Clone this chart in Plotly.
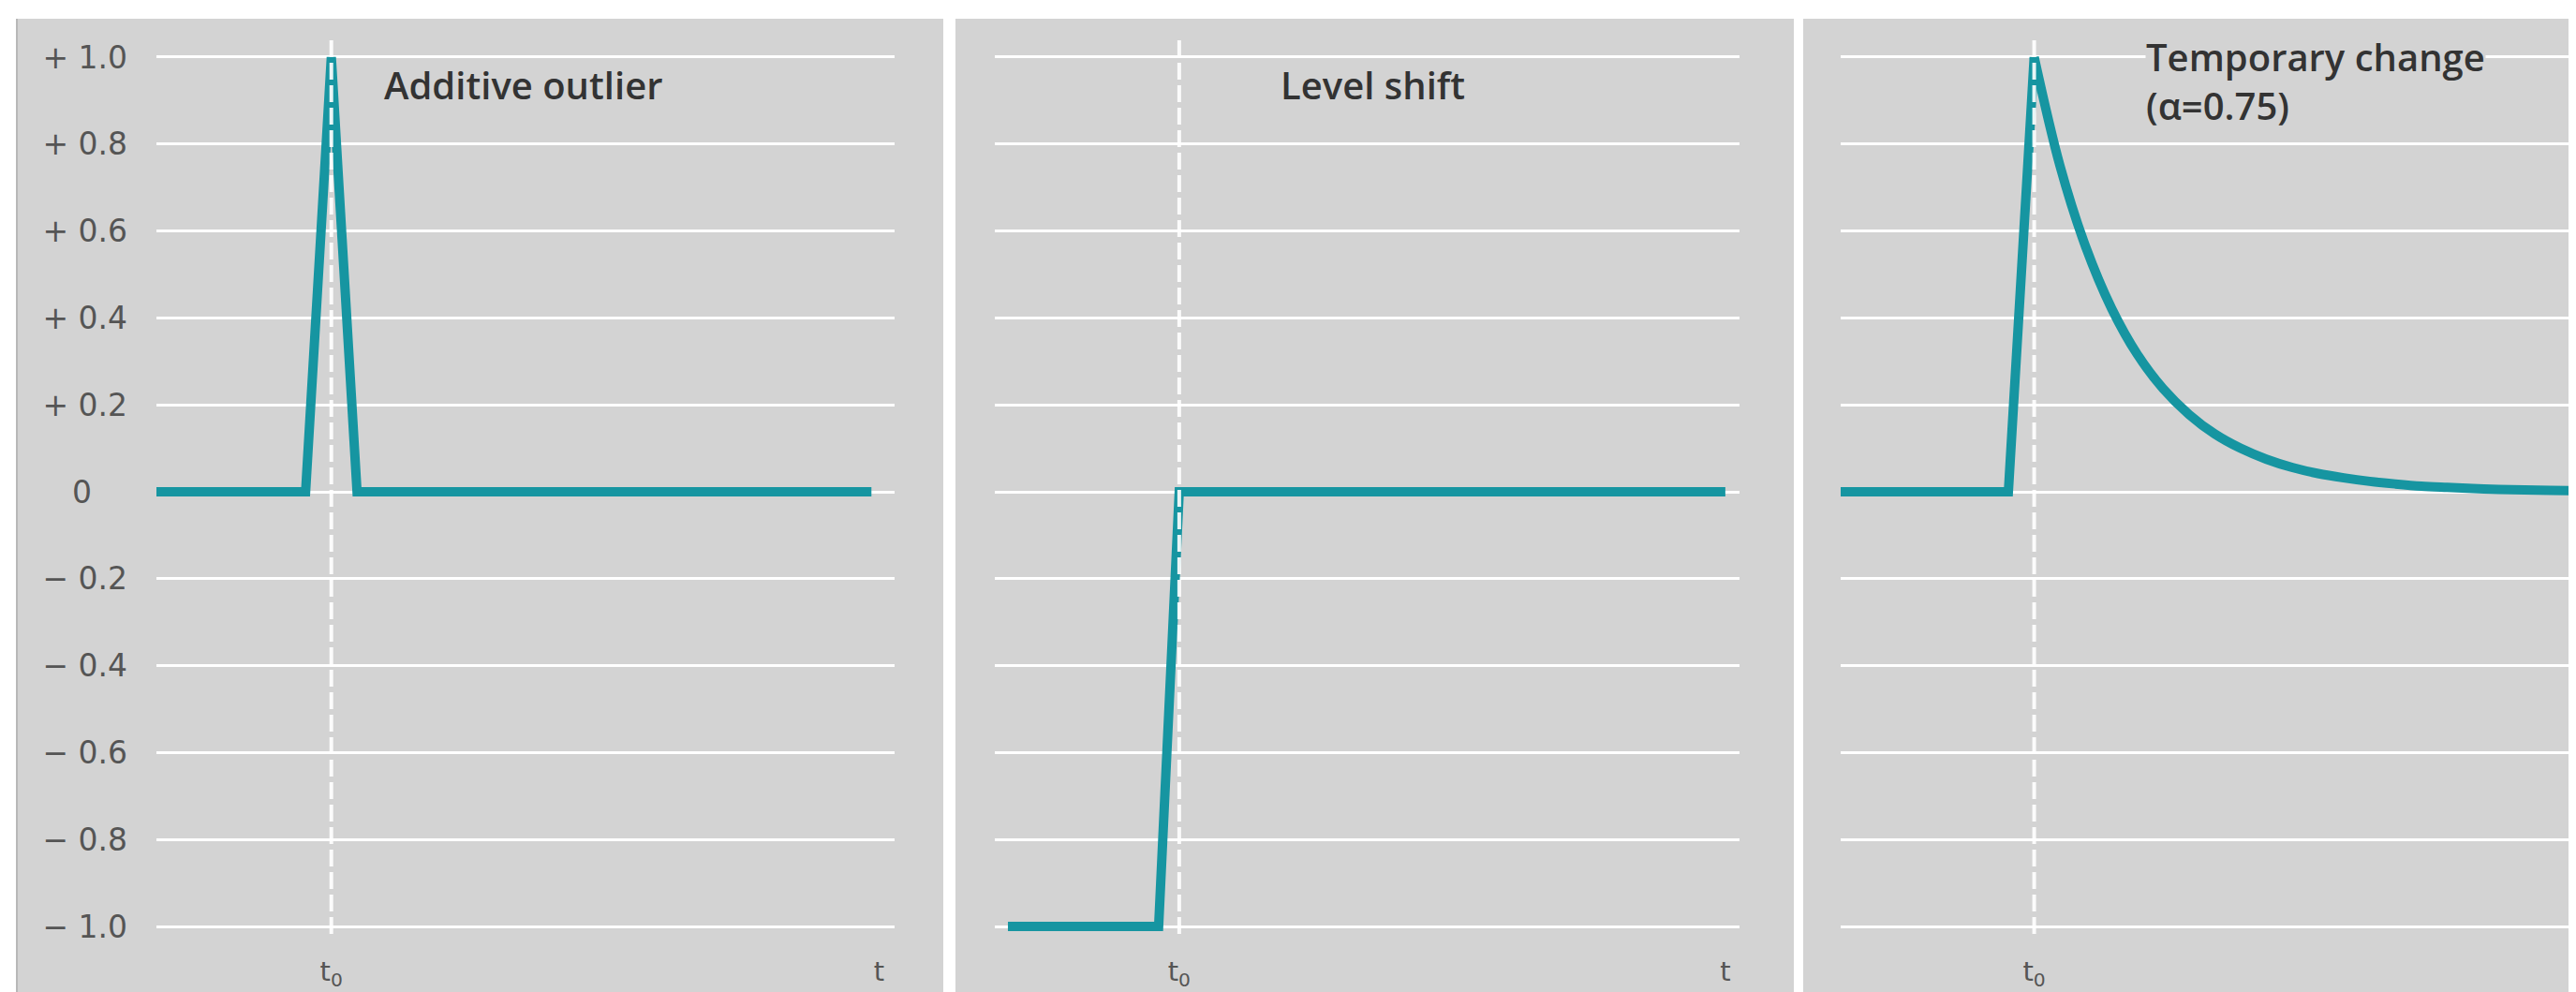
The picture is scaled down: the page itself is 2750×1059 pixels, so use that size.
import plotly.graph_objects as go

# ---- data (t0 = 0, one unit = one period) ----
ao_t = [-6.8, -1, 0, 1, 21]
ao_v = [0, 0, 1.0, 0, 0]

ls_t = [-6.65, -0.8, 0, 21.2]
ls_v = [-1.0, -1.0, 0, 0]

tc_rise_t = [-7.5, -1, 0]
tc_rise_v = [0, 0, 1.0]
tc_t = list(range(0, 22))
tc_v = [1.0, 0.750, 0.563, 0.422, 0.316, 0.237, 0.178, 0.133, 0.100, 0.075, 0.056,
        0.042, 0.032, 0.024, 0.018, 0.013, 0.010, 0.0075, 0.0056, 0.0042,
        0.0032, 0.0024]

panel_titles = ["Additive outlier", "Level shift", "Temporary change<br>(α=0.75)"]

y_tickvals = [1.0, 0.8, 0.6, 0.4, 0.2, 0, -0.2, -0.4, -0.6, -0.8, -1.0]
y_ticktext = ["+ 1.0", "+ 0.8", "+ 0.6", "+ 0.4", "+ 0.2", "0\u00a0\u00a0\u00a0\u2009",
              "− 0.2", "− 0.4", "− 0.6", "− 0.8", "− 1.0"]

x_tickvals_1 = [0, 21.3]
x_tickvals_2 = [0, 21.2]
x_tickvals_3 = [0, 20.9]
x_ticktext = ["t<sub>0</sub>", "t"]

x_ranges = [[-6.8, 21.9], [-7.16, 21.75], [-7.5, 21.0]]
y_range = [-1.0172, 1.0517]

# ---- style ----
OFF = 8                      # page body margin
W, H = 2750 - OFF, 1059 - OFF
TEAL = "#1695a1"
GRAY = "#d3d3d3"
TXT = "#333333"
TICK = "#555555"

fig = go.Figure()

line = dict(color=TEAL, width=10)
fig.add_trace(go.Scatter(x=ao_t, y=ao_v, mode="lines", line=line, xaxis="x", yaxis="y",
                         showlegend=False, hoverinfo="skip"))
fig.add_trace(go.Scatter(x=ls_t, y=ls_v, mode="lines", line=line, xaxis="x2", yaxis="y2",
                         showlegend=False, hoverinfo="skip"))
fig.add_trace(go.Scatter(x=tc_rise_t, y=tc_rise_v, mode="lines", line=line, xaxis="x3", yaxis="y3",
                         showlegend=False, hoverinfo="skip"))
fig.add_trace(go.Scatter(x=tc_t, y=tc_v, mode="lines",
                         line=dict(color=TEAL, width=10, shape="spline", smoothing=1.0),
                         xaxis="x3", yaxis="y3", showlegend=False, hoverinfo="skip"))

def px(v):
    return (v - OFF) / W

domains = [[px(167), px(955)], [px(1062), px(1857)], [px(1965), 1.0]]
xtv = [x_tickvals_1, x_tickvals_2, x_tickvals_3]

top_m = 37 - OFF
plot_bottom = 997 - OFF
bot_m = H - plot_bottom
plot_h = plot_bottom - top_m

layout = dict(
    width=W, height=H,
    margin=dict(l=0, r=0, t=top_m, b=bot_m, pad=0),
    paper_bgcolor="white",
    plot_bgcolor="rgba(0,0,0,0)",
    showlegend=False,
)

for i in range(3):
    sfx = "" if i == 0 else str(i + 1)
    layout["xaxis" + sfx] = dict(
        domain=domains[i], range=x_ranges[i], anchor="y" + sfx,
        showgrid=False, zeroline=False, showline=False, ticks="",
        tickmode="array", tickvals=xtv[i], ticktext=x_ticktext,
        tickfont=dict(family="DejaVu Sans", size=29, color=TICK),
        ticklabelstandoff=20, fixedrange=True,
    )
    layout["yaxis" + sfx] = dict(
        domain=[0, 1], range=y_range, anchor="x" + sfx,
        showgrid=True, gridcolor="white", gridwidth=3,
        zeroline=False, showline=False, ticks="",
        tickmode="array", tickvals=y_tickvals, ticktext=y_ticktext,
        showticklabels=(i == 0),
        tickfont=dict(family="DejaVu Sans", size=33, color=TICK),
        ticklabelstandoff=30, fixedrange=True,
    )

# gray panels
top_p = 1 + (top_m - (20 - OFF)) / plot_h
bot_p = -bot_m / plot_h
panels = [(px(18), px(1007)), (px(1020), px(1915)), (px(1925), 1.0)]
shapes = []
for x0, x1 in panels:
    shapes.append(dict(type="rect", xref="paper", yref="paper", x0=x0, x1=x1,
                       y0=bot_p, y1=top_p, fillcolor=GRAY, line=dict(width=0), layer="below"))
shapes.append(dict(type="line", xref="paper", yref="paper", x0=px(18), x1=px(18),
                   y0=bot_p, y1=top_p, line=dict(color="#b8b8b8", width=2), layer="below"))
# dashed t0 lines
for i in range(3):
    sfx = "" if i == 0 else str(i + 1)
    shapes.append(dict(type="line", xref="x" + sfx, yref="y" + sfx + " domain", x0=0, x1=0,
                       y0=0, y1=1, line=dict(color="rgba(255,255,255,0.9)", width=4, dash="18px,6px"),
                       layer="above"))
layout["shapes"] = shapes

afont = dict(family="Open Sans", size=40, color=TXT, weight=600)
layout["annotations"] = [
    dict(text=panel_titles[0], xref="x", yref="y", x=2.0, y=0.937, xanchor="left", yanchor="middle",
         showarrow=False, font=afont, borderpad=0),
    dict(text=panel_titles[1], xref="x2", yref="y2", x=3.9, y=0.937, xanchor="left", yanchor="middle",
         showarrow=False, font=afont, borderpad=0),
    dict(text=panel_titles[2], xref="x3", yref="y3", x=4.3, y=0.945, xanchor="left", yanchor="middle",
         showarrow=False, font=afont, bgcolor=GRAY, borderpad=0, align="left"),
]

fig.update_layout(**layout)
fig.write_html("out.html")
